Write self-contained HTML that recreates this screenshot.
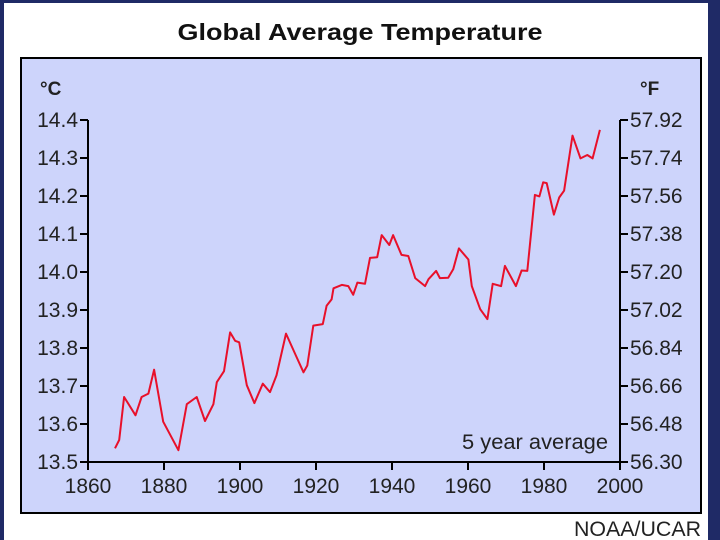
<!DOCTYPE html>
<html><head><meta charset="utf-8"><style>
html,body{margin:0;padding:0;width:720px;height:540px;overflow:hidden;background:#fff}
svg{display:block;font-family:"Liberation Sans",Arial,sans-serif}
</style></head><body>
<svg width="720" height="540" viewBox="0 0 720 540">
<rect x="0" y="0" width="720" height="540" fill="#1f2a66"/>
<rect x="4" y="3" width="704" height="537" fill="#ffffff"/>
<text x="360" y="40" text-anchor="middle" font-size="23" font-weight="bold" fill="#111" textLength="365" lengthAdjust="spacingAndGlyphs">Global Average Temperature</text>
<rect x="21" y="58" width="680" height="455" fill="#cdd4fb" stroke="#000" stroke-width="2"/>
<text x="40" y="95" font-size="19" font-weight="bold" fill="#222">°C</text>
<text x="640" y="95" font-size="19" font-weight="bold" fill="#222">°F</text>
<text x="608" y="449" text-anchor="end" font-size="21" fill="#222" textLength="146" lengthAdjust="spacingAndGlyphs">5 year average</text>
<text x="701" y="536" text-anchor="end" font-size="21" fill="#222" textLength="127" lengthAdjust="spacingAndGlyphs">NOAA/UCAR</text>
<g id="axes"></g>
<path id="line" fill="none" stroke="#e8102a" stroke-width="2" stroke-linejoin="round"/>
</svg>
<script>
const years=[1867.1,1868.2,1869.5,1872.5,1874.1,1875.9,1877.4,1879.8,1883.8,1886,1888.6,1890.8,1893,1893.9,1895.8,1897.4,1898.7,1899.8,1901.8,1903.8,1906,1907.9,1909.6,1912.1,1914.9,1916.7,1917.7,1919.3,1921.8,1922.8,1924.1,1924.6,1926.8,1928.5,1929.8,1930.9,1932.9,1934.2,1936.1,1937.3,1939.3,1940.3,1942.5,1944.3,1946.1,1948.7,1949.6,1951.6,1952.6,1954.8,1956.1,1957.6,1960.1,1961,1963.2,1965.1,1966.5,1968.7,1969.7,1972.6,1974.1,1975.6,1977.6,1978.8,1979.8,1980.7,1982.6,1984,1985.3,1987.5,1989.6,1991.4,1992.8,1994.7];
const temps=[13.536,13.558,13.671,13.623,13.671,13.68,13.743,13.606,13.531,13.652,13.671,13.608,13.652,13.71,13.739,13.841,13.819,13.815,13.702,13.655,13.706,13.684,13.728,13.838,13.776,13.736,13.754,13.859,13.863,13.911,13.928,13.957,13.966,13.963,13.94,13.972,13.969,14.037,14.039,14.097,14.071,14.097,14.045,14.042,13.984,13.963,13.981,14.003,13.984,13.985,14.007,14.062,14.033,13.963,13.902,13.876,13.969,13.963,14.016,13.963,14.004,14.003,14.203,14.199,14.236,14.234,14.151,14.196,14.214,14.359,14.299,14.308,14.299,14.374];
const xTicks=[1860,1880,1900,1920,1940,1960,1980,2000];
const cTicks=[13.5,13.6,13.7,13.8,13.9,14.0,14.1,14.2,14.3,14.4];
const fLabels=["56.30","56.48","56.66","56.84","57.02","57.20","57.38","57.56","57.74","57.92"];
const X0=88,X1=620,Y0=462,Y1=120;
const sx=y=>X0+(y-1860)/(2000-1860)*(X1-X0);
const sy=t=>Y0-(t-13.5)/(14.4-13.5)*(Y0-Y1);
const NS="http://www.w3.org/2000/svg";
const g=document.getElementById('axes');
function mk(tag,attrs,txt){const e=document.createElementNS(NS,tag);for(const k in attrs)e.setAttribute(k,attrs[k]);if(txt!==undefined)e.textContent=txt;g.appendChild(e);return e;}
let e;
e=mk('path',{d:`M${X0} ${Y1}V${Y0}H${X1}V${Y1}`,stroke:'#000','stroke-width':2,fill:'none'});


xTicks.forEach(v=>{
 e=mk('line',{x1:sx(v),x2:sx(v),y1:Y0,y2:Y0+8,stroke:'#000','stroke-width':2});
 
 
 e=mk('text',{x:sx(v),y:Y0+31,'text-anchor':'middle','font-size':21,fill:'#222'},String(v));
 
 
});
cTicks.forEach((v,i)=>{
 e=mk('line',{x1:X0-8,x2:X0,y1:sy(v),y2:sy(v),stroke:'#000','stroke-width':2});
 
 
 e=mk('text',{x:X0-10,y:sy(v)+7,'text-anchor':'end','font-size':21,fill:'#222'},v.toFixed(1));
 
 
 e=mk('line',{x1:X1,x2:X1+8,y1:sy(v),y2:sy(v),stroke:'#000','stroke-width':2});
 
 
 e=mk('text',{x:X1+10,y:sy(v)+7,'font-size':21,fill:'#222'},fLabels[i]);
 
 
});
document.getElementById('line').setAttribute('d',years.map((y,i)=>(i?'L':'M')+sx(y).toFixed(1)+' '+sy(temps[i]).toFixed(1)).join(''));
</script>
</body></html>
